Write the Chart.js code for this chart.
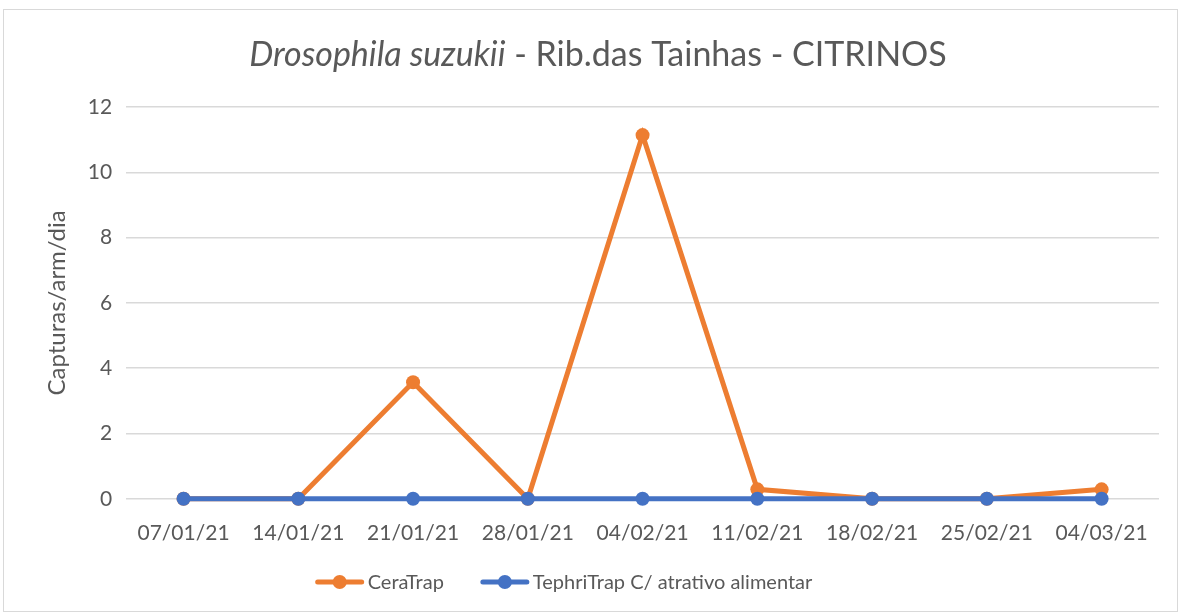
<!DOCTYPE html>
<html><head><meta charset="utf-8">
<script src="https://cdn.jsdelivr.net/npm/chart.js@4"></script>
<style>html,body{margin:0;padding:0;background:#fff}#wrap{width:1179px;height:613px}</style>
</head><body><div id="wrap"><canvas id="c" width="1179" height="613"></canvas></div>
<script>
const categories = ['07/01/21','14/01/21','21/01/21','28/01/21','04/02/21','11/02/21','18/02/21','25/02/21','04/03/21'];
const ceraTrap = [0, 0, 3.57, 0, 11.14, 0.29, 0, 0, 0.29];
const tephriTrap = [0, 0, 0, 0, 0, 0, 0, 0, 0];
const seriesNames = ['CeraTrap', 'TephriTrap C/ atrativo alimentar'];
const titleItalic = 'Drosophila suzukii';
const titleRest = ' - Rib.das Tainhas - CITRINOS';
const yTitle = 'Capturas/arm/dia';

const FONT = 'Lato';
const ORANGE = '#ed7d31', BLUE = '#4472c4', TXT = '#595959';

const decor = {
  id:'decor',
  beforeDraw(chart){
    const ctx = chart.ctx;
    ctx.save();
    ctx.fillStyle = '#fff'; ctx.fillRect(0,0,chart.width,chart.height);
    ctx.strokeStyle = '#d9d9d9'; ctx.lineWidth = 1;
    ctx.strokeRect(3.5, 9.5, chart.width - 5, chart.height - 11);
    ctx.restore();
  },
  afterDraw(chart){
    const ctx = chart.ctx;
    ctx.save();
    ctx.fillStyle = TXT; ctx.textBaseline = 'middle';
    // title
    const fi = 'italic 34px ' + FONT, fn = '34px ' + FONT;
    ctx.font = fi; const w1 = ctx.measureText(titleItalic).width;
    ctx.font = fn; const w2 = ctx.measureText(titleRest).width;
    const x0 = 598 - (w1 + w2) / 2, y = 55;
    ctx.font = fi; ctx.textAlign = 'left'; ctx.fillText(titleItalic, x0, y);
    ctx.font = fn; ctx.fillText(titleRest, x0 + w1, y);
    // legend
    ctx.font = '20px ' + FONT;
    const colors = [ORANGE, BLUE];
    const iconW = 48, gapText = 4, gapItem = 37;
    let total = 0;
    const widths = seriesNames.map(s => ctx.measureText(s).width);
    widths.forEach((w,i) => { total += iconW + gapText + w + (i ? gapItem : 0); });
    let x = 564 - total / 2;
    const ly = 582;
    seriesNames.forEach((s,i) => {
      if (i) x += gapItem;
      ctx.strokeStyle = colors[i]; ctx.lineWidth = 5; ctx.lineCap = 'round';
      ctx.beginPath(); ctx.moveTo(x + 2, ly); ctx.lineTo(x + iconW - 2, ly); ctx.stroke();
      ctx.fillStyle = colors[i];
      ctx.beginPath(); ctx.arc(x + iconW/2, ly, 7, 0, Math.PI*2); ctx.fill();
      x += iconW + gapText;
      ctx.fillStyle = TXT; ctx.textAlign = 'left';
      ctx.fillText(s, x, ly + 1);
      x += widths[i];
    });
    ctx.restore();
  }
};

new Chart(document.getElementById('c'), {
  type:'line',
  data:{
    labels: categories,
    datasets:[
      {label: seriesNames[0], data: ceraTrap, borderColor: ORANGE, backgroundColor: ORANGE, borderWidth: 5, pointRadius: 7, pointHoverRadius: 7, pointBorderWidth: 0, order: 2, clip: false},
      {label: seriesNames[1], data: tephriTrap, borderColor: BLUE, backgroundColor: BLUE, borderWidth: 5, pointRadius: 7, pointHoverRadius: 7, pointBorderWidth: 0, order: 1, clip: false}
    ]
  },
  options:{
    responsive:false, animation:false, devicePixelRatio:1,
    layout:{padding:{top:107, left:39, right:20, bottom:53}},
    plugins:{
      title:{display:false},
      tooltip:{enabled:false},
      legend:{display:false}
    },
    scales:{
      x:{
        offset:true,
        grid:{display:false},
        border:{display:false},
        ticks:{color:TXT, font:{family:FONT, size:21}, padding:14, maxRotation:0}
      },
      y:{
        min:0, max:12,
        ticks:{stepSize:2, color:TXT, font:{family:FONT, size:21}, padding:14},
        grid:{color:'#d9d9d9', lineWidth:1.5, drawTicks:false},
        border:{display:false},
        title:{display:true, text:yTitle, color:TXT, font:{family:FONT, size:24}, padding:{bottom:2}}
      }
    }
  },
  plugins:[decor]
});
</script>
</body></html>
